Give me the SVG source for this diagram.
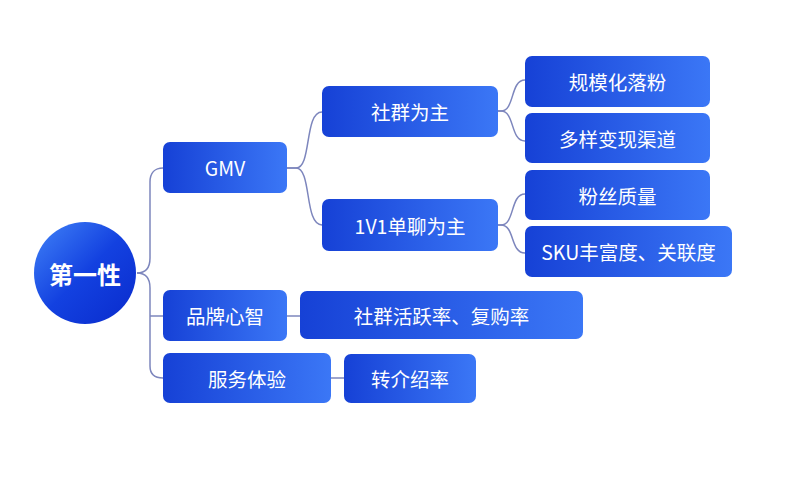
<svg xmlns="http://www.w3.org/2000/svg" width="800" height="478" viewBox="0 0 800 478">
<defs>
<linearGradient id="gBox" x1="0" y1="0" x2="1" y2="0">
<stop offset="0" stop-color="#1641d6"/>
<stop offset="1" stop-color="#3b77f6"/>
</linearGradient>
<linearGradient id="gRoot" x1="0.1" y1="0.1" x2="0.9" y2="0.9">
<stop offset="0" stop-color="#3876f3"/>
<stop offset="0.5" stop-color="#1341e0"/>
<stop offset="1" stop-color="#0b2fd0"/>
</linearGradient>
</defs>
<style>
.box{fill:url(#gBox);}
.t{font-family:"Noto Sans CJK SC","Noto Sans",sans-serif;font-size:19.5px;fill:#ffffff;text-anchor:middle;dominant-baseline:central;}
.root{font-size:24px;font-weight:bold;}
.c{fill:none;stroke:#7d86bd;stroke-width:1.5;}
</style>
<rect width="800" height="478" fill="#ffffff"/>
<g id="connectors">
<path class="c" d="M137,273 C145,273 150,268 150,258 L150,182 C150,173 155,168 163,168"/>
<path class="c" d="M137,273 C145,273 150,278 150,288 L150,366 C150,374 155,378 163,378"/>
<path class="c" d="M150,316 H163"/>
<path class="c" d="M287,168 H296 C312,168 304,112 322,112"/>
<path class="c" d="M287,168 H296 C312,168 304,225 322,225"/>
<path class="c" d="M498,111 H501 C515,111 510,80 525,80"/>
<path class="c" d="M498,111 H501 C515,111 510,141 525,141"/>
<path class="c" d="M498,225 H501 C515,225 510,194 525,194"/>
<path class="c" d="M498,225 H501 C515,225 510,253 525,253"/>
<path class="c" d="M287,316 H300"/>
<path class="c" d="M331,378 H344"/>
</g>
<g id="root">
<circle cx="85" cy="273" r="51" fill="url(#gRoot)"/>
<text class="t root" x="85" y="273">第一性</text>
</g>
<g id="gmv">
<rect class="box" x="163" y="142" width="124" height="51" rx="7"/>
<text class="t" x="225" y="167.5">GMV</text>
</g>
<g id="shequn">
<rect class="box" x="322" y="86" width="176" height="51" rx="7"/>
<text class="t" x="410" y="111.5">社群为主</text>
</g>
<g id="danliao">
<rect class="box" x="322" y="199" width="176" height="52" rx="7"/>
<text class="t" x="410" y="225">1V1单聊为主</text>
</g>
<g id="guimo">
<rect class="box" x="525" y="56" width="185" height="51" rx="7"/>
<text class="t" x="617.5" y="81.5">规模化落粉</text>
</g>
<g id="duoyang">
<rect class="box" x="525" y="113" width="185" height="50" rx="7"/>
<text class="t" x="617.5" y="138">多样变现渠道</text>
</g>
<g id="fensi">
<rect class="box" x="525" y="170" width="185" height="50" rx="7"/>
<text class="t" x="617.5" y="195">粉丝质量</text>
</g>
<g id="sku">
<rect class="box" x="525" y="226" width="207" height="51" rx="7"/>
<text class="t" x="628.5" y="251.5">SKU丰富度、关联度</text>
</g>
<g id="pinpai">
<rect class="box" x="163" y="290" width="124" height="51" rx="7"/>
<text class="t" x="225" y="315.5">品牌心智</text>
</g>
<g id="huoyue">
<rect class="box" x="300" y="291" width="283" height="48" rx="7"/>
<text class="t" x="441.5" y="315">社群活跃率、复购率</text>
</g>
<g id="fuwu">
<rect class="box" x="163" y="353" width="168" height="50" rx="7"/>
<text class="t" x="247" y="378">服务体验</text>
</g>
<g id="zhuanjie">
<rect class="box" x="344" y="354" width="132" height="49" rx="7"/>
<text class="t" x="410" y="378.5">转介绍率</text>
</g>
</svg>
